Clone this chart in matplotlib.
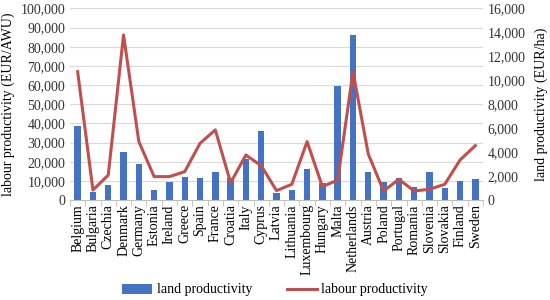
import numpy as np
import matplotlib.pyplot as plt
from matplotlib.ticker import FuncFormatter, MultipleLocator

plt.rcParams['font.family'] = ['Liberation Serif', 'DejaVu Serif']

countries = ['Belgium', 'Bulgaria', 'Czechia', 'Denmark', 'Germany', 'Estonia', 'Ireland',
             'Greece', 'Spain', 'France', 'Croatia', 'Italy', 'Cyprus', 'Latvia', 'Lithuania',
             'Luxembourg', 'Hungary', 'Malta', 'Netherlands', 'Austria', 'Poland', 'Portugal',
             'Romania', 'Slovenia', 'Slovakia', 'Finland', 'Sweden']

# land productivity, EUR/ha (right axis)
land = [6150, 700, 1280, 4000, 3040, 800, 1520, 1960, 1860, 2320, 1800, 3400, 5760,
        610, 830, 2560, 1390, 9520, 13800, 2320, 1470, 1810, 1120, 2320, 1020, 1590, 1760]

# labour productivity, EUR/AWU (left axis)
labour = [67000, 5200, 13000, 86200, 30500, 12200, 12200, 14800, 29600, 36600, 9000,
          23500, 17900, 4900, 8200, 30500, 7000, 10400, 67000, 24000, 4700, 10800, 4700,
          5600, 8200, 20900, 28400]

BAR_C = '#4472C4'
LINE_C = '#C0504D'
GRID_C = '#D9D9D9'
FS = 10

fig = plt.figure(figsize=(5.5, 3.0), dpi=100)
ax = fig.add_axes([70/550, 1 - 200/300, 413/550, 191.5/300])
ax2 = ax.twinx()

x = np.arange(len(countries))

ax2.bar(x, land, width=0.42, color=BAR_C, label='land productivity', zorder=2)
ax.plot(x, labour, color=LINE_C, lw=2.2, label='labour productivity', zorder=3)

# line on top of bars
ax.set_zorder(ax2.get_zorder() + 1)
ax.patch.set_visible(False)

ax.set_xlim(-0.5, len(countries) - 0.5)
ax.set_ylim(0, 100000)
ax2.set_ylim(0, 16000)
ax.yaxis.set_major_locator(MultipleLocator(10000))
ax2.yaxis.set_major_locator(MultipleLocator(2000))
fmt = FuncFormatter(lambda v, p: '{:,.0f}'.format(v))
ax.yaxis.set_major_formatter(fmt)
ax2.yaxis.set_major_formatter(fmt)

for yv in np.arange(10000, 100001, 10000):
    ax2.axhline(yv * 0.16, color=GRID_C, lw=0.8, zorder=0)

for a in (ax, ax2):
    for s in ('top', 'left', 'right'):
        a.spines[s].set_visible(False)
    a.spines['bottom'].set_color('#BFBFBF')
    a.tick_params(axis='y', length=0, labelsize=FS, colors='#333333')

ax2.spines['bottom'].set_visible(False)
ax.set_xticks(x)
ax.set_xticklabels(countries, rotation=90, fontsize=FS)
ax.tick_params(axis='x', length=0, pad=3)
ax.set_xticks(np.arange(-0.5, len(countries)), minor=True)
ax.tick_params(axis='x', which='minor', length=4, color='#BFBFBF')

ax.set_ylabel('labour productivity (EUR/AWU)', fontsize=10, labelpad=4)
ax2.set_ylabel('land productivity (EUR/ha)', fontsize=10, labelpad=6)

h1, l1 = ax2.get_legend_handles_labels()
h2, l2 = ax.get_legend_handles_labels()
fig.legend(h1 + h2, l1 + l2, loc='center', bbox_to_anchor=(0.5, 10/300), ncol=2,
           frameon=False, fontsize=FS, handlelength=2.2, handletextpad=0.3,
           columnspacing=2.5)

fig.savefig('out.png', dpi=100)
